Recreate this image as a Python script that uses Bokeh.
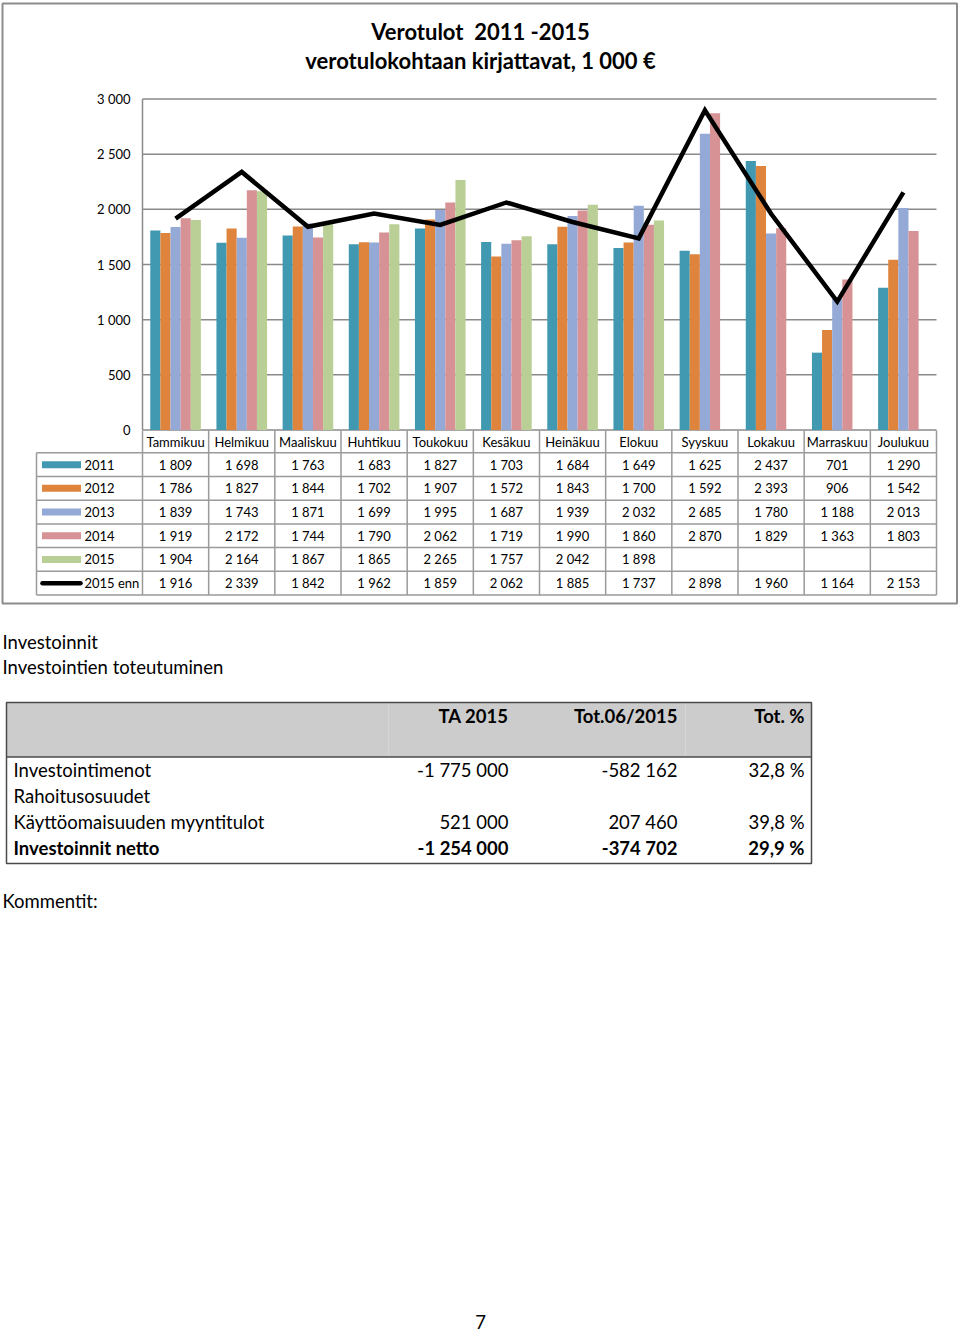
from bokeh.plotting import figure
from bokeh.models import Range1d
from bokeh.core.properties import value
from bokeh.embed import file_html
from bokeh.resources import INLINE

# ---------------- data ----------------
months = ["Tammikuu", "Helmikuu", "Maaliskuu", "Huhtikuu", "Toukokuu", "Kesäkuu",
          "Heinäkuu", "Elokuu", "Syyskuu", "Lokakuu", "Marraskuu", "Joulukuu"]
years = ["2011", "2012", "2013", "2014", "2015"]
v2011 = [1809, 1698, 1763, 1683, 1827, 1703, 1684, 1649, 1625, 2437, 701, 1290]
v2012 = [1786, 1827, 1844, 1702, 1907, 1572, 1843, 1700, 1592, 2393, 906, 1542]
v2013 = [1839, 1743, 1871, 1699, 1995, 1687, 1939, 2032, 2685, 1780, 1188, 2013]
v2014 = [1919, 2172, 1744, 1790, 2062, 1719, 1990, 1860, 2870, 1829, 1363, 1803]
v2015 = [1904, 2164, 1867, 1865, 2265, 1757, 2042, 1898, None, None, None, None]
v2015_enn = [1916, 2339, 1842, 1962, 1859, 2062, 1885, 1737, 2898, 1960, 1164, 2153]
line_label = "2015 enn"
yticks = [0, 500, 1000, 1500, 2000, 2500, 3000]
title_lines = ["Verotulot\u00a0 2011 -2015", "verotulokohtaan kirjattavat, 1 000 €"]

inv_heading = ["Investoinnit", "Investointien toteutuminen"]
inv_cols = ["TA 2015", "Tot.06/2015", "Tot. %"]
inv_rows = ["Investointimenot", "Rahoitusosuudet", "Käyttöomaisuuden myyntitulot", "Investoinnit netto"]
inv_ta = [-1775000, None, 521000, -1254000]
inv_tot = [-582162, None, 207460, -374702]
inv_pct = [32.8, None, 39.8, 29.9]
comment_label = "Kommentit:"
page_no = "7"

series = [v2011, v2012, v2013, v2014, v2015]
colors = ["#4198B1", "#DE843D", "#94A9D5", "#D69294", "#BACF96"]

# ---------------- helpers ----------------
def fmt_int(v):
    if v is None:
        return ""
    s = f"{abs(v):,}".replace(",", " ")
    return ("-" if v < 0 else "") + s

def fmt_pct(v):
    if v is None:
        return ""
    return f"{v:.1f}".replace(".", ",") + " %"

FONT = value("Lato")

# ---------------- page geometry (reference pixel space) ----------------
W, H = 958, 1331
PX0, PX1, PY0, PY1 = 0, W, 0, H
L, R = 142, 936            # plot area left/right
Y_ZERO, Y_TOP = 429.5, 98.5  # pixel rows of value 0 and 3000
col_w = (R - L) / 12.0
k = (Y_ZERO - Y_TOP) / 3000.0

def m_of(x):
    return (x - L) / col_w - 0.5

def v_of(y):
    return (Y_ZERO - y) / k

p = figure(width=W, height=H, x_range=Range1d(PX0, PX1), y_range=Range1d(PY1, PY0),
           output_backend="svg", toolbar_location=None, min_border=0,
           x_axis_location=None, y_axis_location=None, outline_line_color=None)
p.grid.visible = False
p.background_fill_color = "white"
p.border_fill_color = "white"
p.extra_x_ranges = {"m": Range1d(m_of(PX0), m_of(PX1))}
p.extra_y_ranges = {"v": Range1d(v_of(PY1), v_of(PY0))}

GRID = "#8a8a8a"
TBL = "#9a9a9a"

# outer frame of chart
p.quad(left=[2], right=[956.5], top=[3], bottom=[603], fill_color=None,
       line_color="#8c8c8c", line_width=2)

# title
p.text(x=[480, 480], y=[31, 60], text=title_lines, text_font=FONT, text_font_size="22px",
       text_font_style="bold", text_align="center", text_baseline="middle", text_color="#000000")

# grid lines
gt = yticks[1:]
p.segment(x0=[-0.5] * len(gt), x1=[11.5] * len(gt), y0=gt, y1=gt,
          x_range_name="m", y_range_name="v", line_color=GRID, line_width=1.5)
# axis lines
p.segment(x0=[-0.5], x1=[11.5], y0=[0], y1=[0], x_range_name="m", y_range_name="v",
          line_color=GRID, line_width=1.5)
p.segment(x0=[-0.5], x1=[-0.5], y0=[0], y1=[yticks[-1]], x_range_name="m", y_range_name="v",
          line_color=GRID, line_width=1.5)

# y tick labels
p.text(x=[130] * len(yticks), y=yticks, text=[fmt_int(t) for t in yticks], y_range_name="v",
       text_font=FONT, text_font_size="13px", text_align="right", text_baseline="middle",
       text_color="#000000")

# bars
bw = 0.153
for j, (vals, c) in enumerate(zip(series, colors)):
    xs = [i + (j - 2) * bw for i in range(12) if vals[i] is not None]
    tops = [vals[i] for i in range(12) if vals[i] is not None]
    p.vbar(x=xs, top=tops, bottom=0, width=bw, x_range_name="m", y_range_name="v",
           fill_color=c, line_color=None)

# forecast line
p.line(x=list(range(12)), y=v2015_enn, x_range_name="m", y_range_name="v",
       line_color="black", line_width=4.5, line_join="miter")

# ---------------- data table under the chart ----------------
hdr_top, hdr_bot = 430, 452.3
row_h = 23.7
nrows = 6
tbl_bot = hdr_bot + row_h * nrows
leg_left = 36
row_c = [hdr_bot + row_h * (r + 0.5) for r in range(nrows)]

hy = [hdr_bot + row_h * r for r in range(nrows + 1)]
p.segment(x0=[leg_left] * len(hy), x1=[R] * len(hy), y0=hy, y1=hy, line_color=TBL, line_width=1.5)
vb = [i - 0.5 for i in range(13)]
p.segment(x0=vb, x1=vb, y0=[hdr_top] * 13, y1=[tbl_bot] * 13, x_range_name="m",
          line_color=TBL, line_width=1.5)
p.segment(x0=[leg_left], x1=[leg_left], y0=[hdr_bot], y1=[tbl_bot], line_color=TBL, line_width=1.5)

p.text(x=list(range(12)), y=[441.5] * 12, text=months, x_range_name="m", text_font=FONT,
       text_font_size="13px", text_align="center", text_baseline="middle", text_color="#000000")

all_rows = series + [v2015_enn]
for r, vals in enumerate(all_rows):
    p.text(x=list(range(12)), y=[row_c[r]] * 12, text=[fmt_int(v) for v in vals], x_range_name="m",
           text_font=FONT, text_font_size="13px", text_align="center", text_baseline="middle",
           text_color="#000000")

# legend keys
p.rect(x=[61] * 5, y=row_c[:5], width=[39] * 5, height=[7] * 5, fill_color=colors, line_color=None)
p.segment(x0=[42], x1=[80], y0=[row_c[5]], y1=[row_c[5]], line_color="black", line_width=4.5,
          line_cap="round")
p.text(x=[84] * 6, y=row_c, text=years + [line_label], text_font=FONT, text_font_size="13px",
       text_align="left", text_baseline="middle", text_color="#000000")

# ---------------- investments section ----------------
p.text(x=[2, 2], y=[641, 666], text=inv_heading, text_font=FONT, text_font_size="18.5px",
       text_align="left", text_baseline="middle", text_color="#000000")

it_l, it_r, it_t, it_hb, it_b = 6, 811, 702, 756.5, 863
p.quad(left=[it_l], right=[it_r], top=[it_t], bottom=[it_hb], fill_color="#CCCCCC", line_color=None)
p.segment(x0=[388, 685], x1=[388, 685], y0=[it_t, it_t], y1=[it_hb, it_hb], line_color="#d6d6d6",
          line_width=1)
p.segment(x0=[it_l], x1=[it_r], y0=[it_hb], y1=[it_hb], line_color="#4a4a4a", line_width=1.5)
p.quad(left=[it_l], right=[it_r], top=[it_t], bottom=[it_b], fill_color=None, line_color="#4a4a4a",
       line_width=1.5)

col_right = [508, 677, 804]
p.text(x=col_right, y=[715] * 3, text=inv_cols, text_font=FONT, text_font_size="18.5px",
       text_font_style="bold", text_align="right", text_baseline="middle", text_color="#000000")

row_y = [769 + 26 * r for r in range(len(inv_rows))]
styles = ["normal"] * (len(inv_rows) - 1) + ["bold"]
for r, name in enumerate(inv_rows):
    p.text(x=[13], y=[row_y[r]], text=[name], text_font=FONT, text_font_size="18.5px",
           text_font_style=styles[r], text_align="left", text_baseline="middle", text_color="#000000")
    p.text(x=col_right, y=[row_y[r]] * 3,
           text=[fmt_int(inv_ta[r]), fmt_int(inv_tot[r]), fmt_pct(inv_pct[r])],
           text_font=FONT, text_font_size="18.5px", text_font_style=styles[r], text_align="right",
           text_baseline="middle", text_color="#000000")

p.text(x=[2], y=[900], text=[comment_label], text_font=FONT, text_font_size="18.5px",
       text_align="left", text_baseline="middle", text_color="#000000")
p.text(x=[480], y=[1321], text=[page_no], text_font=FONT, text_font_size="18.5px",
       text_align="center", text_baseline="middle", text_color="#000000")

open("out.html", "w").write(file_html(p, INLINE))
